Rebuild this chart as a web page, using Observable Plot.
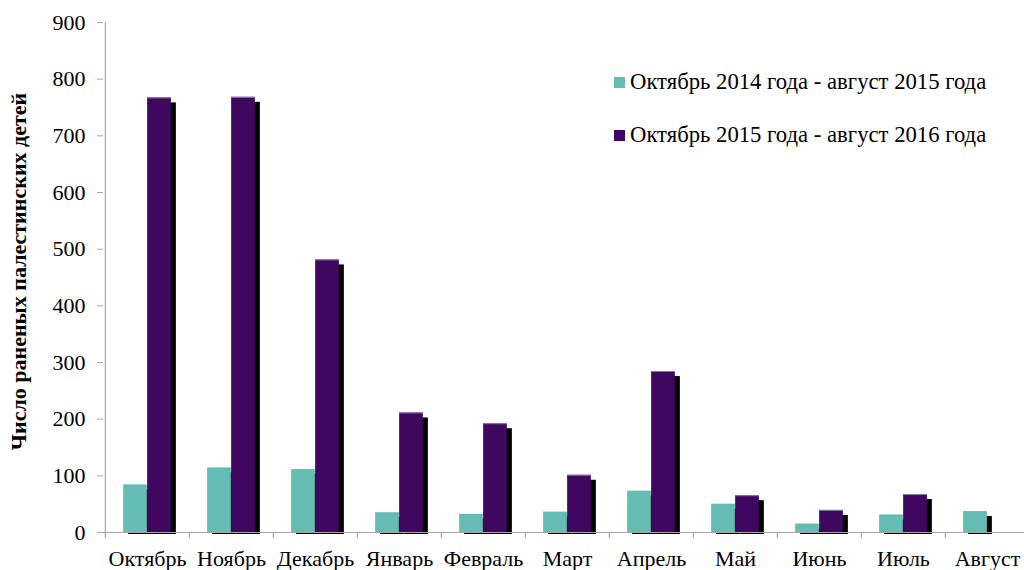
<!DOCTYPE html>
<html>
<head>
<meta charset="utf-8">
<script src="https://cdn.jsdelivr.net/npm/d3@7"></script>
<script src="https://cdn.jsdelivr.net/npm/@observablehq/plot@0.6"></script>
<style>
  html, body { margin: 0; padding: 0; background: #fff; }
  #wrap { position: relative; width: 1024px; height: 570px; overflow: hidden; }
  #legend { position: absolute; left: 614px; top: 68px; font-family: "Liberation Serif", "Times New Roman", serif; font-size: 22.7px; color: #000; }
  #legend .item { display: flex; align-items: center; height: 28px; margin-bottom: 25px; white-space: nowrap; }
  #legend .sw { width: 11px; height: 11px; margin-right: 5px; }
</style>
</head>
<body>
<div id="wrap">
  <div id="chart"></div>
  <div id="legend"></div>
</div>
<script>
const months = ["Октябрь","Ноябрь","Декабрь","Январь","Февраль","Март","Апрель","Май","Июнь","Июль","Август"];
const series = ["Октябрь 2014 года - август 2015 года", "Октябрь 2015 года - август 2016 года"];
const values2015 = [84, 114, 111, 35, 32, 36, 73, 50, 15, 31, 37];
const values2016 = [767, 768, 481, 211, 192, 101, 284, 65, 39, 67, null];
const colors = ["#65bcb4", "#3f0760"];
const yTicks = [0, 100, 200, 300, 400, 500, 600, 700, 800, 900];
const yTitle = "Число раненых палестинских детей";

const rows = [];
months.forEach((m, i) => {
  rows.push({month: m, series: series[0], value: values2015[i]});
  if (values2016[i] != null) rows.push({month: m, series: series[1], value: values2016[i]});
});
const rows1 = rows.filter(d => d.series === series[0]);
const rows2 = rows.filter(d => d.series === series[1]);

const width = 1024, height = 570;
const marginLeft = 103, marginRight = -6, marginTop = 22, marginBottom = 38;
const bw = (width - marginLeft - marginRight) / months.length;
const barW = 24;
const startOff = (bw - 2 * barW) / 2;
const ins1 = {insetLeft: startOff, insetRight: bw - startOff - barW};
const ins2 = {insetLeft: startOff + barW, insetRight: bw - startOff - 2 * barW};
const shadow = {dx: 5, dy: 2, insetTop: 3, fill: "#000"};
const serif = "'Liberation Serif', 'Times New Roman', serif";
const axisGray = "#a6a6a6";

const chart = Plot.plot({
  width, height, marginLeft, marginRight, marginTop, marginBottom,
  style: {fontFamily: serif, fontSize: "22px", color: "#000", background: "#fff"},
  x: {domain: months, padding: 0},
  y: {type: "linear", domain: [0, 900]},
  marks: [
    Plot.barY(rows1, {x: "month", y: "value", ...ins1, ...shadow}),
    Plot.barY(rows2, {x: "month", y: "value", ...ins2, ...shadow}),
    Plot.barY(rows1, {x: "month", y: "value", ...ins1, fill: colors[0]}),
    Plot.barY(rows2, {x: "month", y: "value", ...ins2, fill: colors[1]}),
    Plot.barY(rows2, {x: "month", y1: "value", y2: "value", ...ins2, insetTop: 0, insetBottom: -1, fill: "#9079a8"}),
    Plot.ruleY([0], {stroke: axisGray, strokeWidth: 1.2}),
    Plot.ruleX([months[0]], {y1: 0, y2: 900, dx: -bw / 2, stroke: axisGray, strokeWidth: 1.2}),
    Plot.ruleX(months, {x: d => d, y1: 0, y2: 0, insetBottom: -6, dx: -bw / 2, stroke: axisGray, strokeWidth: 1.2}),
    Plot.axisY({ticks: yTicks, tickSize: 6, tickPadding: 12, label: null, stroke: axisGray, tickFormat: d => d, fontSize: 22}),
    Plot.axisX({tickSize: 0, tickPadding: 18, label: null, fontSize: 22}),
    Plot.text([yTitle], {text: d => d, frameAnchor: "left", dx: -85, dy: -6, rotate: -90,
      fontWeight: "bold", fontSize: 22, textAnchor: "middle", lineAnchor: "middle", fill: "#000"})
  ]
});
document.getElementById("chart").appendChild(chart);

const lg = d3.select("#legend");
series.forEach((s, i) => {
  const it = lg.append("div").attr("class", "item");
  it.append("div").attr("class", "sw").style("background", colors[i]);
  it.append("span").text(s);
});
</script>
</body>
</html>
